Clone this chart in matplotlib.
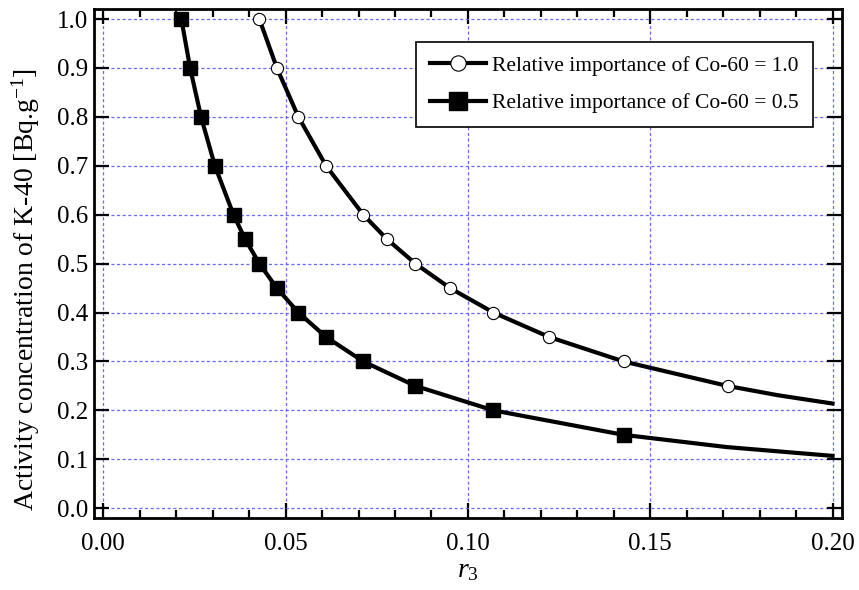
import matplotlib
matplotlib.use("Agg")
import matplotlib.pyplot as plt
from matplotlib.ticker import MultipleLocator

# ---------------- DATA ----------------
# relative importance of Co-60 = 1.0 (open circles)
r3_co10 = [0.0428, 0.0476, 0.0535, 0.0611, 0.0713, 0.0778, 0.0856, 0.0951, 0.107, 0.1223, 0.1427, 0.1712]
k40_co10 = [1.0, 0.9, 0.8, 0.7, 0.6, 0.55, 0.5, 0.45, 0.4, 0.35, 0.3, 0.25]
# curve continues past last marker
r3_co10_tail = [0.1712, 0.185, 0.2]
k40_co10_tail = [0.25, 0.231, 0.214]

# relative importance of Co-60 = 0.5 (filled squares)
r3_co05 = [0.0214, 0.0238, 0.0268, 0.0306, 0.0357, 0.0389, 0.0428, 0.0476, 0.0535, 0.0611, 0.0713, 0.0856, 0.107, 0.1427]
k40_co05 = [1.0, 0.9, 0.8, 0.7, 0.6, 0.55, 0.5, 0.45, 0.4, 0.35, 0.3, 0.25, 0.2, 0.15]
r3_co05_tail = [0.1427, 0.171, 0.2]
k40_co05_tail = [0.15, 0.125, 0.107]

labels = ["Relative importance of Co-60 = 1.0", "Relative importance of Co-60 = 0.5"]

# ---------------- STYLE ----------------
plt.rcParams["font.family"] = ["Liberation Serif", "DejaVu Serif"]
plt.rcParams["mathtext.fontset"] = "custom"
plt.rcParams["mathtext.rm"] = "Liberation Serif"
plt.rcParams["mathtext.it"] = "Liberation Serif:italic"

fig = plt.figure(figsize=(8.59, 5.90), dpi=100)
ax = fig.add_axes([93.5 / 859, 1 - 518 / 590, (842 - 93.5) / 859, (518 - 9.3) / 590])

lw = 3.0
ax.plot(r3_co10_tail, k40_co10_tail, color="black", lw=lw, zorder=3)
ax.plot(r3_co05_tail, k40_co05_tail, color="black", lw=lw, zorder=3)
ax.plot(r3_co10, k40_co10, color="black", lw=lw, marker="o", ms=8.8,
        mfc="white", mec="black", mew=0.8, label=labels[0], zorder=4)
ax.plot(r3_co05, k40_co05, color="black", lw=lw, marker="s", ms=9.8,
        mfc="black", mec="black", label=labels[1], zorder=4)

ax.set_xlim(-0.0027, 0.2026)
ax.set_ylim(-0.02, 1.02)
ax.xaxis.set_major_locator(MultipleLocator(0.05))
ax.xaxis.set_minor_locator(MultipleLocator(0.01))
ax.yaxis.set_major_locator(MultipleLocator(0.1))
ax.xaxis.set_major_formatter(plt.FuncFormatter(lambda v, p: f"{v:.2f}"))
ax.yaxis.set_major_formatter(plt.FuncFormatter(lambda v, p: f"{v:.1f}"))

ax.tick_params(which="both", direction="in", top=True, right=True, labelsize=18)
ax.tick_params(which="major", length=11, width=1.6)
ax.tick_params(which="minor", length=6, width=1.6)
ax.tick_params(axis="x", which="major", pad=11)
ax.tick_params(axis="y", which="major", pad=4)
for s in ax.spines.values():
    s.set_linewidth(2)

ax.grid(True, which="major", color="#5a5aff", lw=0.9, linestyle=(0, (2.5, 2)), alpha=0.9)
ax.set_axisbelow(True)

ax.set_xlabel(r"$\mathit{r}_{\mathit{3}}$", fontsize=20, labelpad=2)
ax.set_ylabel(r"Activity concentration of K-40 [Bq.g$^{\mathregular{-1}}$]", fontsize=20)
ax.yaxis.set_label_coords(-0.069, 0.45)

leg = ax.legend(loc="upper right", bbox_to_anchor=(0.961, 0.936), fontsize=15.5,
                frameon=True, fancybox=False, edgecolor="black", framealpha=1,
                handlelength=2.6, borderpad=0.65, labelspacing=0.8, handletextpad=0.3,
                borderaxespad=0, markerscale=1.25)
leg.get_frame().set_linewidth(1.2)

fig.savefig("out.png", dpi=100)
